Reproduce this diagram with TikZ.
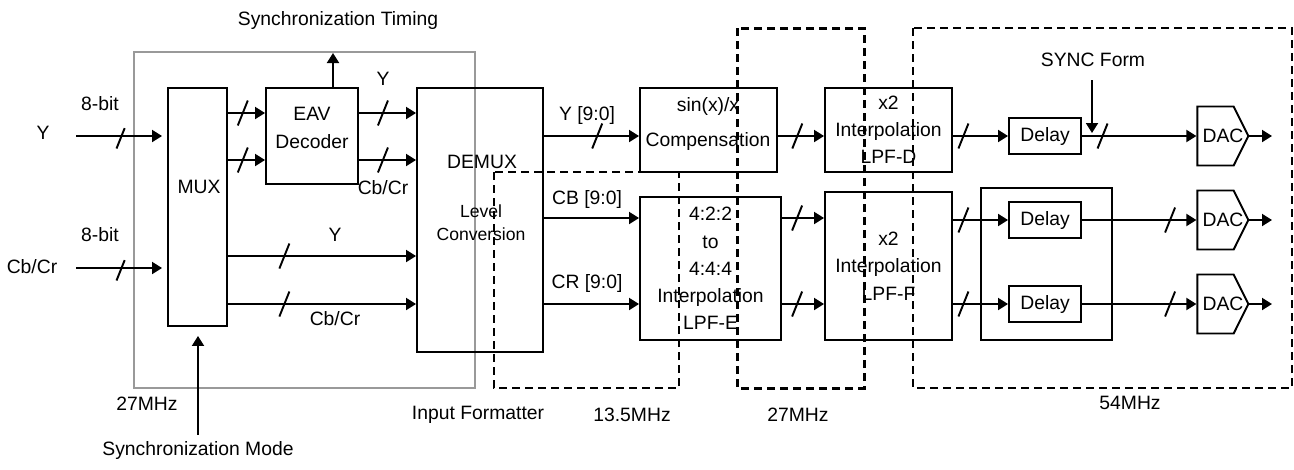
\documentclass[tikz,border=0pt]{standalone}
\usepackage{fontspec}
\setmainfont{Liberation Sans}
\usepackage{tikz}
\usetikzlibrary{arrows.meta, positioning, calc, shapes.symbols, decorations.markings}

\begin{document}
\begin{tikzpicture}[
        x=0.2mm, y=-0.2mm,
        font=\fontsize{11}{15.5}\selectfont,
        box/.style={draw, line width=1.1pt, inner sep=0pt, align=center},
        dac/.style={draw, line width=1.1pt, signal, signal to=east, signal pointer angle=127, minimum width=10.2mm, minimum height=11.8mm, inner sep=0pt},
        arrow/.style={-{Triangle[length=2mm, width=2.4mm]}, line width=1.1pt},
        bus/.style={postaction={decorate}, decoration={markings, mark=at position #1 with {\draw[-, line width=1.1pt] (-1mm,-2.5mm) -- (1mm,2.5mm);}}},
        region/.style={draw=black!40, line width=0.8pt},
        clockzone/.style={dash pattern=on 1.6mm off 1mm, line width=#1},
        small/.style={font=\fontsize{10}{13}\selectfont}
    ]
    \useasboundingbox (0,0) rectangle (1294,469);

    % clock domains
    \draw[region] (134,52) rectangle (475,388);
    \draw[clockzone=1.4pt] (494,172) rectangle (679,388);
    \draw[clockzone=1.7pt] (737,28) rectangle (864,388);
    \draw[clockzone=1.1pt] (913,28) rectangle (1292,388);

    % input formatter
    \node[box, minimum width=11.8mm, minimum height=47.6mm] (mux) at (197.5,207) {};
    \node (muxt) at (199,187) {MUX};
    \node[box, minimum width=18.4mm, minimum height=19.2mm] (eav) at (312,136) {};
    \node[align=center] (eavt) at (312,128) {EAV\\Decoder};
    \node[box, minimum width=25.2mm, minimum height=52.8mm] (demux) at (480,220) {};
    \node (demuxt) at (482,162) {DEMUX};
    \node[small, align=center] (lvlt) at (481,223) {Level\\Conversion};

    % filters
    \node[box, minimum width=27.4mm, minimum height=16.8mm] (sinc) at (708.5,130) {};
    \node[align=center] (sinct) at (708,124) {sin(x)/x\\[1.5mm]Compensation};
    \node[box, minimum width=28.2mm, minimum height=28.6mm] (cvt) at (710.5,268.5) {4:2:2\\to\\4:4:4\\Interpolation\\LPF-E};
    \node[box, minimum width=25.4mm, minimum height=16.8mm] (lpfd) at (888.5,130) {x2\\Interpolation\\LPF-D};
    \node[box, minimum width=25.4mm, minimum height=29.6mm] (lpff) at (888.5,266) {x2\\Interpolation\\LPF-F};

    % output stage
    \node[box, minimum width=26.2mm, minimum height=30.4mm] (dfrm) at (1046.5,264) {};
    \node[box, minimum width=14.4mm, minimum height=7.2mm] (dly1) at (1045,136) {Delay};
    \node[box, minimum width=14.4mm, minimum height=7.2mm] (dly2) at (1045,220) {Delay};
    \node[box, minimum width=14.4mm, minimum height=7.2mm] (dly3) at (1045,304) {Delay};
    \node[dac] (dac1) at (1215.5,136) {\makebox[0pt]{\hspace*{3mm}DAC}};
    \node[dac] (dac2) at (1215.5,220) {\makebox[0pt]{\hspace*{3mm}DAC}};
    \node[dac] (dac3) at (1215.5,304) {\makebox[0pt]{\hspace*{3mm}DAC}};

    % labels
    \node (synct) at (338,20) {Synchronization Timing};
    \node (syncm) at (198,450) {Synchronization Mode};
    \node (yin) at (43,133) {Y};
    \node (cin) at (32,267) {Cb/Cr};
    \node (bit1) at (100,104) {8-bit};
    \node (bit2) at (100,235) {8-bit};
    \node (ey) at (383,79) {Y};
    \node (ec) at (383,188) {Cb/Cr};
    \node (my) at (335,235) {Y};
    \node (mc) at (335,319) {Cb/Cr};
    \node (clk1) at (147,404) {27MHz};
    \node (ifmt) at (478,415) {Input Formatter};
    \node (clk2) at (632,415) {13.5MHz};
    \node (clk3) at (798,415) {27MHz};
    \node (clk4) at (1130,403) {54MHz};
    \node (yb) at (587,115) {Y [9:0]};
    \node (cbb) at (587,199) {CB [9:0]};
    \node (crb) at (587,283) {CR [9:0]};
    \node (syncf) at (1093,60) {SYNC Form};

    \coordinate (yin-s) at (76,136);
    \coordinate (cin-s) at (76,268);
    \coordinate (sync-t) at (333,53);
    \coordinate (sync-f) at (1092,80);
    \coordinate (out1) at (1272,136);
    \coordinate (out2) at (1272,220);
    \coordinate (out3) at (1272,304);

    % connections
    \draw[arrow, bus=0.5, shorten >=1mm] (yin-s) -- (yin-s -| mux.west);
    \draw[arrow, bus=0.5, shorten >=1mm] (cin-s) -- (cin-s -| mux.west);
    \draw[arrow, bus=0.4] (mux.east |- 0,113) -- (eav.west |- 0,113);
    \draw[arrow, bus=0.4] (mux.east |- 0,160) -- (eav.west |- 0,160);
    \draw[arrow, bus=0.42] (eav.east |- 0,113) -- (demux.west |- 0,113);
    \draw[arrow, bus=0.42] (eav.east |- 0,160) -- (demux.west |- 0,160);
    \draw[arrow, bus=0.3] (mux.east |- 0,256) -- (demux.west |- 0,256);
    \draw[arrow, bus=0.3] (mux.east |- 0,304) -- (demux.west |- 0,304);
    \draw[arrow] (eav.north -| sync-t) -- (sync-t);
    \draw[arrow, shorten >=1.8mm] (syncm.north) -- (syncm.north |- mux.south);

    \draw[arrow, bus=0.56] (demux.east |- 0,136) -- (sinc.west |- 0,136);
    \draw[arrow] (demux.east |- 0,218) -- (cvt.west |- 0,218);
    \draw[arrow] (demux.east |- 0,304) -- (cvt.west |- 0,304);
    \draw[arrow, bus=0.42] (sinc.east |- 0,136) -- (lpfd.west |- 0,136);
    \draw[arrow, bus=0.36] (cvt.east |- 0,218) -- (lpff.west |- 0,218);
    \draw[arrow, bus=0.36] (cvt.east |- 0,304) -- (lpff.west |- 0,304);

    \draw[arrow, bus=0.19] (lpfd.east |- dly1) -- (dly1.west);
    \draw[arrow, bus=0.19] (lpff.east |- dly2) -- (dly2.west);
    \draw[arrow, bus=0.19] (lpff.east |- dly3) -- (dly3.west);
    \draw[arrow, bus=0.18] (dly1.east) -- (dac1.west);
    \draw[arrow, bus=0.77] (dly2.east) -- (dac2.west);
    \draw[arrow, bus=0.77] (dly3.east) -- (dac3.west);
    \draw[arrow, shorten >=0.6mm] (sync-f) -- (sync-f |- dly1);
    \draw[arrow] (dac1.east) -- (out1);
    \draw[arrow] (dac2.east) -- (out2);
    \draw[arrow] (dac3.east) -- (out3);
\end{tikzpicture}
\end{document}
